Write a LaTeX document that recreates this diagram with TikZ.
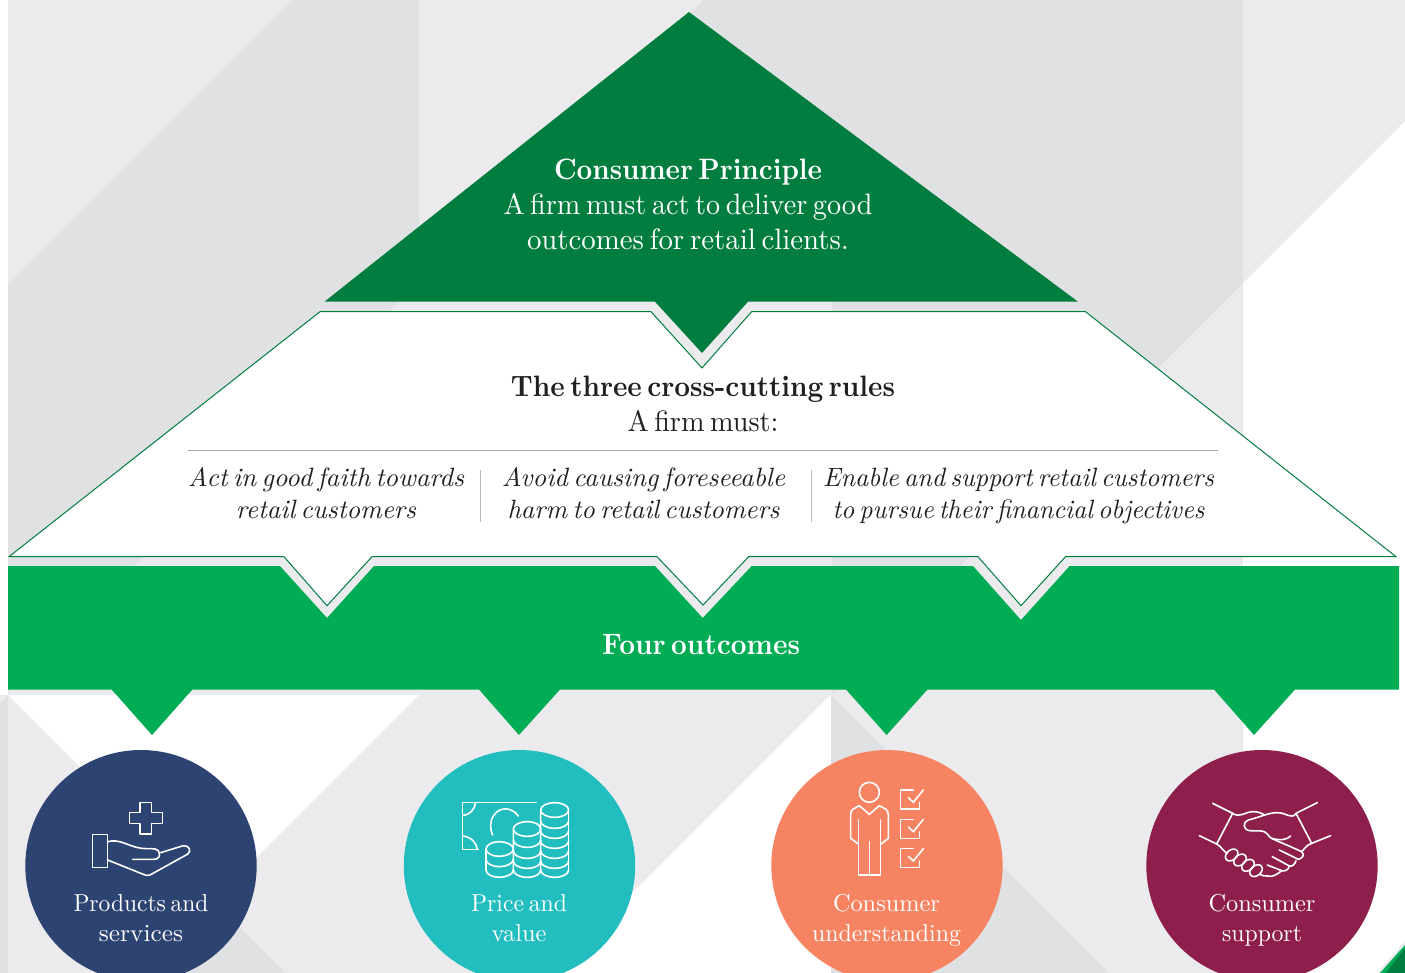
\documentclass[tikz,border=0pt]{standalone}
\usepackage{graphicx}
\usetikzlibrary{calc}
\definecolor{bglight}{HTML}{EBEBED}
\definecolor{bgdark}{HTML}{E0E1E3}
\definecolor{deepgreen}{HTML}{017E3F}
\definecolor{midgreen}{HTML}{00AD55}
\definecolor{inkblack}{HTML}{231F20}
\definecolor{navyc}{HTML}{2D4372}
\definecolor{tealc}{HTML}{22BDBF}
\definecolor{coralc}{HTML}{F68462}
\definecolor{maroonc}{HTML}{8E1F4C}
\definecolor{rulegray}{HTML}{A6A6A6}
\newcommand{\fs}{1}
\newcommand{\fitw}[2]{\resizebox{#1pt}{\height}{\scalebox{\fs}{\fontsize{10}{12}\selectfont\spaceskip=0.2em\relax #2}}}
\tikzset{
  bigcirc/.style={circle,minimum size=231.4pt,inner sep=0pt,draw=none},
  icon/.style={draw=white,line width=1.6pt,line join=round,line cap=round},
  toptext/.style={anchor=base,align=center,text=white,inner sep=0pt,font=\fontsize{29}{35}\selectfont\renewcommand{\fs}{2.95}},
  midtext/.style={anchor=base,align=center,text=inkblack,inner sep=0pt,font=\fontsize{29}{35.5}\selectfont\renewcommand{\fs}{2.95}},
  ittext/.style={anchor=base,align=center,text=inkblack,inner sep=0pt,font=\fontsize{26}{32}\selectfont\itshape\renewcommand{\fs}{2.65}},
  circtext/.style={anchor=base,align=center,text=white,inner sep=0pt,font=\fontsize{24}{29.5}\selectfont\renewcommand{\fs}{2.45}},
  rulevert/.style={draw=rulegray!80,line width=0.8pt},
}
\begin{document}
\begin{tikzpicture}[x=1pt,y=-1pt]
\useasboundingbox (0,0) rectangle (1405,973);
\clip (0,0) rectangle (1405,973);
\fill[white] (0,0) rectangle (1405,973);
% background, upper panel
\fill[bglight] (8,0) rectangle (1243,695);
\fill[bglight] (1243,0) -- (1405,0) -- (1405,121) -- (1243,283) -- cycle;
\fill[bgdark] (292,0) -- (419,0) -- (419,281) -- (8,692) -- (8,284) -- cycle;
\fill[bgdark] (703,0) -- (1243,0) -- (1243,283) -- (832,694) -- (832,200) -- (690,13) -- cycle;
% background, lower panel
\fill[bgdark] (0,695) rectangle (8,973);
\fill[bglight] (0,695) -- (8,695) -- (0,703) -- cycle;
\fill[bglight] (8,695) -- (286,973) -- (8,973) -- cycle;
\fill[bglight] (419,695) -- (830,695) -- (552,973) -- (141,973) -- cycle;
\fill[bgdark] (213.5,900.5) -- (286,973) -- (141,973) -- cycle;
\fill[bglight] (831,695) rectangle (1243,973);
\fill[bgdark] (831,695) -- (1109,973) -- (831,973) -- cycle;
% corner
\fill[bglight] (1405,941) -- (1377,973) -- (1405,973) -- cycle;
\fill[midgreen] (1405,945) -- (1380,973) -- (1405,973) -- cycle;
\fill[deepgreen] (1405,948) -- (1386,973) -- (1405,973) -- cycle;
% top triangle
\fill[deepgreen] (689,12) -- (1078,301.7) -- (748,301.7) -- (702,353) -- (655,301.7) -- (324.5,301.7) -- cycle;
% four outcomes band
\fill[midgreen] (8,566) -- (280,566) -- (327,618) -- (374,566) -- (655,566) -- (702.7,618) -- (751.7,566) -- (973,566) -- (1021,620) -- (1069.6,566) -- (1399,566) -- (1399,689.5)
  -- (1295,689.5) -- (1254,735) -- (1214,689.5) -- (927.5,689.5) -- (886.6,735) -- (846,689.5) -- (560,689.5) -- (519,735) -- (479,689.5) -- (192.4,689.5) -- (152,735) -- (111.6,689.5) -- (8,689.5) -- cycle;
% white panel
\filldraw[fill=white,draw=deepgreen,line width=1pt,line join=miter] (320,311.7) -- (651,311.7) -- (702,368) -- (751.6,311.7) -- (1085.5,311.7) -- (1396,556.7) -- (1065.5,556.7) -- (1021,605.7) -- (978,556.7) -- (748.6,556.7) -- (703,605) -- (657,556.7) -- (372,556.7) -- (327,605.7) -- (284,556.7) -- (9,556.7) -- cycle;
% rules
\coordinate (ruleL) at (188,450.5);
\coordinate (ruleR) at (1218,450.5);
\draw[draw=rulegray,line width=1pt] (ruleL) -- (ruleR);
\coordinate (v1a) at (480.8,470); \coordinate (v1b) at (480.8,521.6);
\coordinate (v2a) at (811.5,470); \coordinate (v2b) at (811.5,521.6);
\draw[rulevert] (v1a) -- (v1b);
\draw[rulevert] (v2a) -- (v2b);
% texts
\node[toptext] (principle) at (688,250) {{\bfseries\fitw{268}{Consumer Principle}}\\\fitw{369}{A firm must act to deliver good}\\\fitw{322}{outcomes for retail clients.}};
\node[midtext] (rules) at (703,431.5) {{\bfseries\fitw{384}{The three cross-cutting rules}}\\\fitw{151}{A firm must:}};
\node[ittext] (ruleA) at (326,518.5) {\fitw{276}{Act in good faith towards}\\\fitw{180}{retail customers}};
\node[ittext] (ruleB) at (643.5,518.5) {\fitw{283}{Avoid causing foreseeable}\\\fitw{272}{harm to retail customers}};
\node[ittext] (ruleC) at (1018.5,518.5) {\fitw{391}{Enable and support retail customers}\\\fitw{372}{to pursue their financial objectives}};
\node[toptext,font=\fontsize{29}{34}\selectfont\bfseries\renewcommand{\fs}{2.95}] (four) at (701,654) {\fitw{198}{Four outcomes}};
% circles
\node[bigcirc,fill=navyc] (c1) at (141,865.7) {};
\node[bigcirc,fill=tealc] (c2) at (519.5,865.7) {};
\node[bigcirc,fill=coralc] (c3) at (887,865.7) {};
\node[bigcirc,fill=maroonc] (c4) at (1262,865.7) {};
\node[circtext] (t1) at (141,941) {\fitw{135}{Products and}\\\fitw{84}{services}};
\node[circtext] (t2) at (519,941) {\fitw{96}{Price and}\\\fitw{55}{value}};
\node[circtext] (t3) at (886.5,941) {\fitw{107}{Consumer}\\\fitw{149}{understanding}};
\node[circtext] (t4) at (1262,941) {\fitw{107}{Consumer}\\\fitw{80}{support}};
% icon 1 hand and cross
\begin{scope}[shift={(70,790)}]
\begin{scope}[x=0.3333pt,y=-0.3333pt,icon]
\draw (210,38) -- (245,38) -- (245,68) -- (277,68) -- (277,100) -- (245,100) -- (245,132) -- (210,132) -- (210,100) -- (178,100) -- (178,68) -- (210,68) -- cycle;
\draw (68,133) rectangle (113,233);
\draw (113,155) .. controls (150,145) and (175,170) .. (215,175) .. controls (235,178) and (255,172) .. (265,182) .. controls (272,195) and (270,208) .. (250,208) -- (188,208);
\draw (272,188) -- (340,167) .. controls (358,165) and (366,185) .. (352,193) -- (240,255) .. controls (232,258) and (228,256) .. (220,253) -- (113,210);
\end{scope}
\end{scope}
% icon 2 note and coins
\begin{scope}[shift={(450,790)}]
\begin{scope}[x=0.3333pt,y=-0.3333pt,icon]
\draw (258,37) -- (38,37) -- (38,178) -- (85,178);
\draw (76,38) .. controls (74,60) and (60,74) .. (38,76);
\draw (38,138) .. controls (62,140) and (80,158) .. (82,178);
\draw (205,78) .. controls (185,50) and (150,50) .. (132,75) .. controls (118,95) and (120,118) .. (128,135);
% right stack
\draw (272,60) .. controls (272,48) and (290,38) .. (314,38) .. controls (338,38) and (356,48) .. (356,60) .. controls (356,72) and (338,82) .. (314,82) .. controls (290,82) and (272,72) .. (272,60) -- (272,240);
\draw (356,60) -- (356,240);
\foreach \yy in {93,123,153,183,213,240}
  \draw (272,\yy) .. controls (272,\yy+12) and (290,\yy+22) .. (314,\yy+22) .. controls (338,\yy+22) and (356,\yy+12) .. (356,\yy);
% middle stack
\draw (190,117) .. controls (190,105) and (208,95) .. (232,95) .. controls (256,95) and (272,105) .. (272,117) .. controls (272,129) and (256,139) .. (232,139) .. controls (208,139) and (190,129) .. (190,117) -- (190,240);
\foreach \yy in {150,183,213,240}
  \draw (190,\yy) .. controls (190,\yy+12) and (208,\yy+22) .. (232,\yy+22) .. controls (256,\yy+22) and (272,\yy+12) .. (272,\yy);
% left stack
\draw (108,177) .. controls (108,165) and (126,155) .. (148,155) .. controls (170,155) and (190,165) .. (190,177) .. controls (190,189) and (170,199) .. (148,199) .. controls (126,199) and (108,189) .. (108,177) -- (108,240);
\foreach \yy in {208,240}
  \draw (108,\yy) .. controls (108,\yy+12) and (126,\yy+22) .. (148,\yy+22) .. controls (170,\yy+22) and (190,\yy+12) .. (190,\yy);
\end{scope}
\end{scope}
% icon 3 person and checklist
\begin{scope}[shift={(830,775)}]
\begin{scope}[x=0.3333pt,y=-0.3333pt,icon]
\draw (118,52) circle[radius=10pt];
\draw (88,92) -- (118,118) -- (148,92) -- (168,103) .. controls (173,107) and (175,113) .. (175,120) -- (175,190) -- (154,207);
\draw (88,92) -- (68,103) .. controls (63,107) and (62,113) .. (62,120) -- (62,190) -- (85,207);
\draw (152,135) -- (152,300) -- (85,300) -- (85,135);
\draw (118,200) -- (118,300);
\foreach \dy in {0,88,176} {
  \draw (250,45+\dy) -- (212,45+\dy) -- (212,102+\dy) -- (268,102+\dy) -- (268,82+\dy);
  \draw (235,68+\dy) -- (250,82+\dy) -- (280,45+\dy);
}
\end{scope}
\end{scope}
% icon 4 handshake
\begin{scope}[shift={(1190,790)}]
\begin{scope}[x=0.3333pt,y=-0.3333pt,icon]
\draw (68,40) -- (128,70) -- (80,162) -- (28,137);
\draw (382,38) -- (318,70) -- (365,160) -- (422,137);
\draw (128,70) .. controls (150,85) and (165,65) .. (190,65) .. controls (205,65) and (215,70) .. (225,75);
\draw (318,70) .. controls (305,90) and (290,68) .. (262,68) .. controls (235,68) and (215,80) .. (175,90) .. controls (158,96) and (158,118) .. (178,122) .. controls (200,124) and (222,118) .. (232,132) .. controls (240,148) and (255,148) .. (335,185) .. controls (345,195) and (338,205) .. (325,208) -- (268,180);
\draw (245,145) .. controls (270,152) and (290,150) .. (302,138);
\draw (365,160) .. controls (350,165) and (345,175) .. (335,185);
\draw (318,212) .. controls (315,225) and (305,230) .. (298,228) -- (247,200);
\draw (298,228) .. controls (295,240) and (285,245) .. (275,242) -- (232,225);
\draw (275,242) .. controls (260,255) and (245,262) .. (232,258);
\draw (80,162) .. controls (95,170) and (100,185) .. (112,190);
\draw[rotate around={40:(125,195)}] (125,195) ellipse[x radius=7pt,y radius=5pt];
\draw[rotate around={40:(150,210)}] (150,210) ellipse[x radius=7pt,y radius=5pt];
\draw[rotate around={40:(174,226)}] (174,226) ellipse[x radius=7pt,y radius=5pt];
\draw[rotate around={40:(198,242)}] (198,242) ellipse[x radius=7pt,y radius=5pt];
\draw (208,252) .. controls (215,258) and (225,258) .. (232,258);
\end{scope}
\end{scope}
\end{tikzpicture}
\end{document}
